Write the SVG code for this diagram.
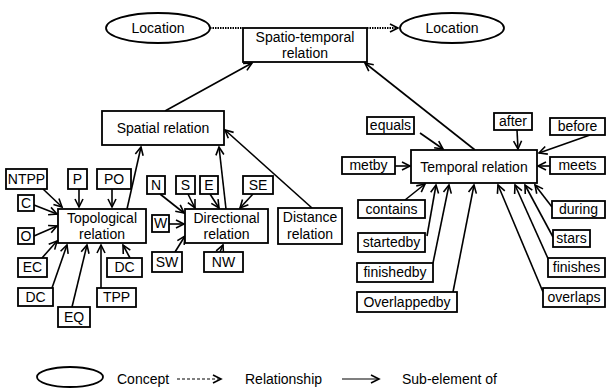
<svg xmlns="http://www.w3.org/2000/svg" width="607" height="389" viewBox="0 0 607 389">
<style>
.b{fill:#fff;stroke:#000;stroke-width:1.8}
.e{fill:#fff;stroke:#000;stroke-width:1.8}
.t{font-family:"Liberation Sans",Arial,sans-serif;font-size:14px;fill:#000;text-anchor:middle}
.l{font-family:"Liberation Sans",Arial,sans-serif;font-size:14px;fill:#000}
.c{stroke:#000;stroke-width:1.6;fill:none;marker-end:url(#ah)}
.d{stroke:#000;stroke-width:2;fill:none;stroke-dasharray:1.5,1}
</style>
<defs>
<marker id="ah" markerUnits="userSpaceOnUse" markerWidth="10" markerHeight="10" refX="8" refY="4" orient="auto" overflow="visible">
<path d="M0,0 L8,4 L0,8" fill="none" stroke="#000" stroke-width="1.6"/>
</marker>
</defs>
<rect width="607" height="389" fill="#fff"/>
<g id="connectors">
<line class="d" x1="210" y1="28" x2="243" y2="28"/>
<line class="d" x1="367" y1="28" x2="398" y2="28" style="marker-end:url(#ah)"/>
<line class="c" x1="165" y1="111" x2="252" y2="63"/>
<line class="c" x1="475" y1="150" x2="365" y2="63"/>
<line class="c" x1="43" y1="189" x2="62" y2="207"/>
<line class="c" x1="79" y1="189" x2="79" y2="207"/>
<line class="c" x1="112" y1="189" x2="112" y2="207"/>
<line class="c" x1="34" y1="205" x2="57" y2="214"/>
<line class="c" x1="34" y1="236" x2="57" y2="226"/>
<line class="c" x1="42" y1="258" x2="57" y2="241"/>
<line class="c" x1="52" y1="288" x2="67" y2="245"/>
<line class="c" x1="72" y1="307" x2="87" y2="245"/>
<line class="c" x1="101" y1="288" x2="101" y2="245"/>
<line class="c" x1="130" y1="258" x2="123" y2="245"/>
<line class="c" x1="127" y1="209" x2="141" y2="147"/>
<line class="c" x1="160" y1="194" x2="184" y2="213"/>
<line class="c" x1="188" y1="194" x2="195" y2="208"/>
<line class="c" x1="210" y1="194" x2="219" y2="208"/>
<line class="c" x1="253" y1="194" x2="240" y2="208"/>
<line class="c" x1="169" y1="224" x2="184" y2="224"/>
<line class="c" x1="175" y1="252" x2="185" y2="236"/>
<line class="c" x1="220" y1="252" x2="223" y2="245"/>
<line class="c" x1="226" y1="209" x2="219" y2="147"/>
<line class="c" x1="312" y1="208" x2="225" y2="130"/>
<line class="c" x1="420" y1="133" x2="443" y2="149"/>
<line class="c" x1="517" y1="130" x2="518" y2="149"/>
<line class="c" x1="590" y1="135" x2="539" y2="153"/>
<line class="c" x1="395" y1="166" x2="410" y2="166"/>
<line class="c" x1="550" y1="166" x2="538" y2="166"/>
<line class="c" x1="405" y1="200" x2="425" y2="184"/>
<line class="c" x1="427" y1="236" x2="436" y2="185"/>
<line class="c" x1="433" y1="263" x2="449" y2="185"/>
<line class="c" x1="453" y1="292" x2="474" y2="185"/>
<line class="c" x1="543" y1="292" x2="498" y2="185"/>
<line class="c" x1="550" y1="263" x2="515" y2="185"/>
<line class="c" x1="553" y1="237" x2="525" y2="185"/>
<line class="c" x1="552" y1="207" x2="535" y2="185"/>
</g>
<g id="loc1"><ellipse class="e" cx="158" cy="28" rx="52" ry="15"/><text class="t" x="158" y="33">Location</text></g>
<g id="loc2"><ellipse class="e" cx="452" cy="28" rx="52" ry="15"/><text class="t" x="452" y="33">Location</text></g>
<g id="spatiotemporal"><rect class="b" x="243" y="28" width="124" height="34"/><text class="t" x="305" y="42">Spatio-temporal</text><text class="t" x="305" y="58">relation</text></g>
<g id="spatial"><rect class="b" x="102" y="111" width="122" height="34"/><text class="t" x="163" y="133">Spatial relation</text></g>
<g id="topological"><rect class="b" x="58" y="209" width="88" height="34"/><text class="t" x="102" y="223">Topological</text><text class="t" x="102" y="239">relation</text></g>
<g id="ntpp"><rect class="b" x="6" y="169" width="41" height="20"/><text class="t" x="26.5" y="184">NTPP</text></g>
<g id="p"><rect class="b" x="68" y="169" width="19" height="20"/><text class="t" x="77.5" y="184">P</text></g>
<g id="po"><rect class="b" x="97" y="169" width="34" height="20"/><text class="t" x="114" y="184">PO</text></g>
<g id="c"><rect class="b" x="18" y="195" width="16" height="16"/><text class="t" x="26" y="208">C</text></g>
<g id="o"><rect class="b" x="18" y="228" width="16" height="16"/><text class="t" x="26" y="241">O</text></g>
<g id="ec"><rect class="b" x="18" y="258" width="29" height="19"/><text class="t" x="32.5" y="272">EC</text></g>
<g id="dc1"><rect class="b" x="18" y="288" width="35" height="18"/><text class="t" x="35.5" y="302">DC</text></g>
<g id="eq"><rect class="b" x="58" y="307" width="32" height="20"/><text class="t" x="74" y="322">EQ</text></g>
<g id="tpp"><rect class="b" x="97" y="288" width="39" height="19"/><text class="t" x="116.5" y="302">TPP</text></g>
<g id="dc2"><rect class="b" x="107" y="258" width="35" height="19"/><text class="t" x="124.5" y="272">DC</text></g>
<g id="directional"><rect class="b" x="185" y="209" width="83" height="34"/><text class="t" x="226.5" y="223">Directional</text><text class="t" x="226.5" y="239">relation</text></g>
<g id="n"><rect class="b" x="147" y="176" width="18" height="18"/><text class="t" x="156" y="190">N</text></g>
<g id="s"><rect class="b" x="176" y="176" width="19" height="18"/><text class="t" x="185.5" y="190">S</text></g>
<g id="e"><rect class="b" x="200" y="176" width="18" height="18"/><text class="t" x="209" y="190">E</text></g>
<g id="se"><rect class="b" x="243" y="176" width="30" height="18"/><text class="t" x="258" y="190">SE</text></g>
<g id="w"><rect class="b" x="152" y="215" width="17" height="17"/><text class="t" x="160.5" y="228">W</text></g>
<g id="sw"><rect class="b" x="152" y="252" width="30" height="20"/><text class="t" x="167" y="267">SW</text></g>
<g id="nw"><rect class="b" x="204" y="252" width="39" height="20"/><text class="t" x="223.5" y="267">NW</text></g>
<g id="distance"><rect class="b" x="278" y="208" width="64" height="36"/><text class="t" x="310" y="222">Distance</text><text class="t" x="310" y="239">relation</text></g>
<g id="temporal"><rect class="b" x="411" y="150" width="126" height="33"/><text class="t" x="474" y="172">Temporal relation</text></g>
<g id="equals"><rect class="b" x="367" y="117" width="47" height="17"/><text class="t" x="390.5" y="130">equals</text></g>
<g id="after"><rect class="b" x="494" y="113" width="38" height="17"/><text class="t" x="513" y="126">after</text></g>
<g id="before"><rect class="b" x="550" y="118" width="55" height="17"/><text class="t" x="577.5" y="131">before</text></g>
<g id="metby"><rect class="b" x="342" y="157" width="53" height="17"/><text class="t" x="368.5" y="170">metby</text></g>
<g id="meets"><rect class="b" x="550" y="157" width="55" height="17"/><text class="t" x="577.5" y="170">meets</text></g>
<g id="contains"><rect class="b" x="358" y="200" width="67" height="18"/><text class="t" x="391.5" y="214">contains</text></g>
<g id="startedby"><rect class="b" x="358" y="233" width="67" height="19"/><text class="t" x="391.5" y="247">startedby</text></g>
<g id="finishedby"><rect class="b" x="357" y="263" width="76" height="19"/><text class="t" x="395" y="277">finishedby</text></g>
<g id="overlappedby"><rect class="b" x="357" y="292" width="100" height="20"/><text class="t" x="407" y="307">Overlappedby</text></g>
<g id="during"><rect class="b" x="552" y="201" width="53" height="17"/><text class="t" x="578.5" y="214">during</text></g>
<g id="stars"><rect class="b" x="553" y="230" width="37" height="17"/><text class="t" x="571.5" y="243">stars</text></g>
<g id="finishes"><rect class="b" x="548" y="258" width="57" height="19"/><text class="t" x="576.5" y="272">finishes</text></g>
<g id="overlaps"><rect class="b" x="543" y="288" width="62" height="19"/><text class="t" x="574" y="302">overlaps</text></g>
<g id="legend">
<ellipse class="e" cx="70" cy="377" rx="33" ry="10"/>
<text class="l" x="117" y="384">Concept</text>
<line x1="177" y1="379" x2="221" y2="379" stroke="#000" stroke-width="1.2" stroke-dasharray="3,2" marker-end="url(#ah)"/>
<text class="l" x="245" y="384">Relationship</text>
<line x1="342" y1="379" x2="379" y2="379" stroke="#000" stroke-width="1.2" marker-end="url(#ah)"/>
<text class="l" x="402" y="384">Sub-element of</text>
</g>
</svg>
